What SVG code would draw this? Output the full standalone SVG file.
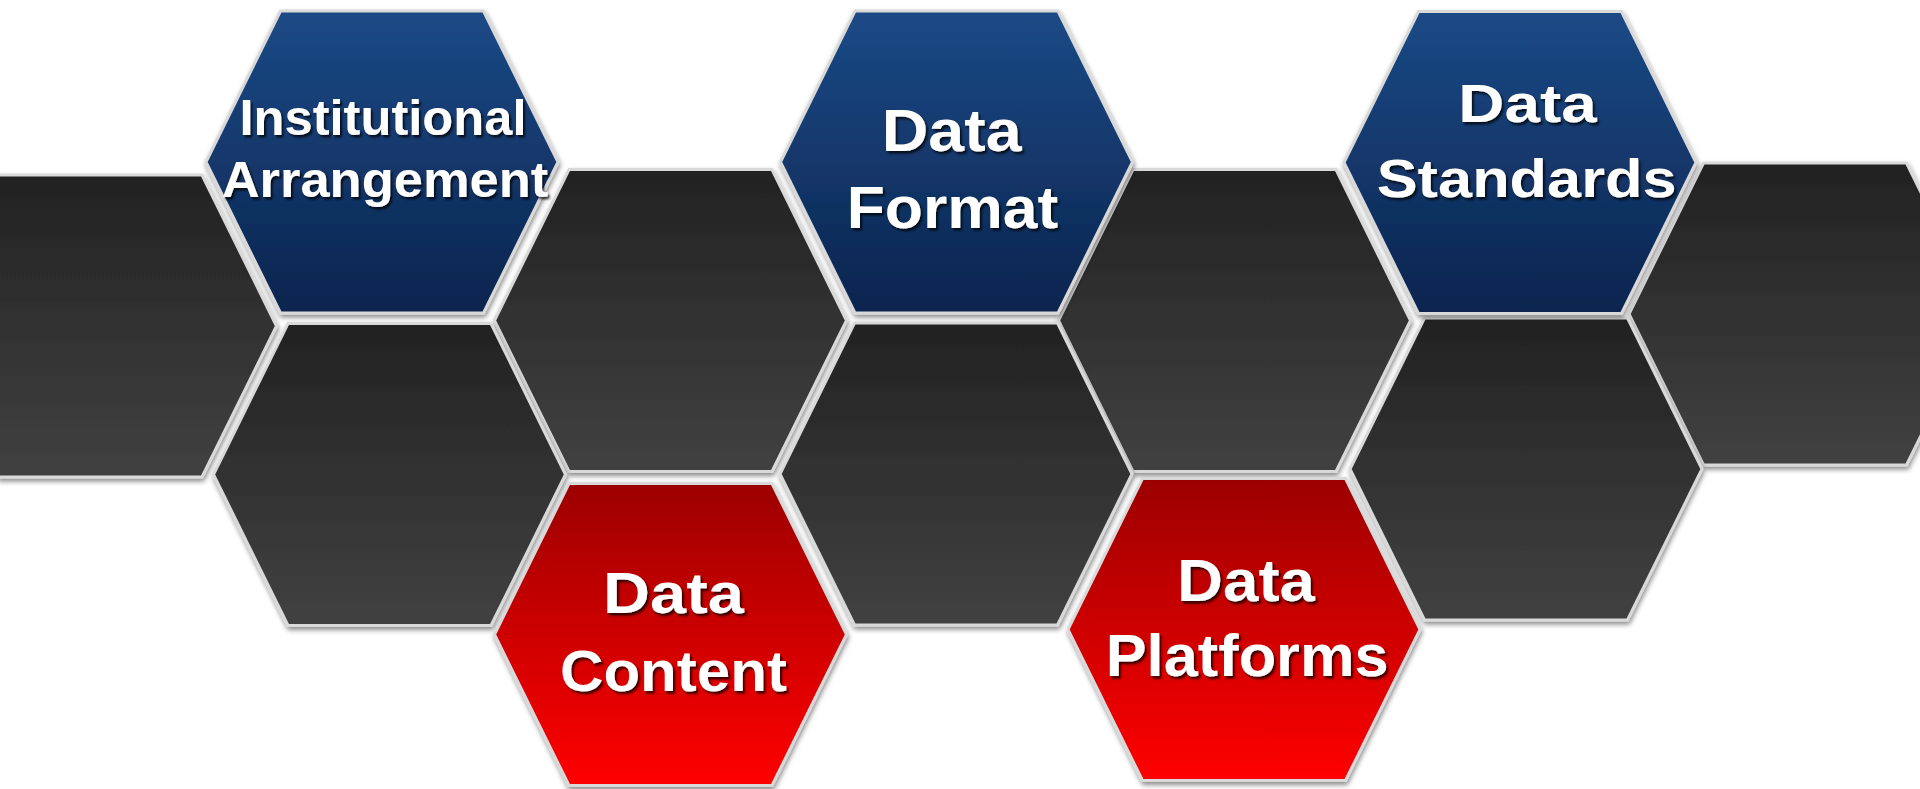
<svg xmlns="http://www.w3.org/2000/svg" width="1920" height="789" viewBox="0 0 1920 789">
<defs>
  <linearGradient id="gGray" x1="0" y1="0" x2="0" y2="1">
    <stop offset="0" stop-color="#222222"/>
    <stop offset="1" stop-color="#414141"/>
  </linearGradient>
  <linearGradient id="gBlue" x1="0" y1="0" x2="0" y2="1">
    <stop offset="0" stop-color="#1b4a86"/>
    <stop offset="1" stop-color="#0b244e"/>
  </linearGradient>
  <linearGradient id="gRed" x1="0" y1="0" x2="0" y2="1">
    <stop offset="0" stop-color="#9c0000"/>
    <stop offset="1" stop-color="#ff0000"/>
  </linearGradient>
  <filter id="hexShadow" x="-10%" y="-10%" width="120%" height="125%">
    <feDropShadow dx="1" dy="3" stdDeviation="2.5" flood-color="#000000" flood-opacity="0.45"/>
  </filter>
  <filter id="txtShadow" x="-10%" y="-20%" width="120%" height="150%">
    <feDropShadow dx="2" dy="2.5" stdDeviation="1.2" flood-color="#000000" flood-opacity="0.75"/>
  </filter>
  <path id="hex" d="M-176,0 L-101.5,-151 L101.5,-151 L176,0 L101.5,151 L-101.5,151 Z"/>
</defs>
<style>
  .hx { stroke: #d9d9d9; stroke-width: 3; stroke-linejoin: miter; filter: url(#hexShadow); }
  .gray { fill: url(#gGray); }
  .blue { fill: url(#gBlue); }
  .red { fill: url(#gRed); }
  .lbl { font-family: "Liberation Sans", Arial, sans-serif; font-weight: bold; fill: #ffffff; filter: url(#txtShadow); }
</style>
<rect x="0" y="0" width="1920" height="789" fill="#ffffff"/>

<g id="hex-gray-a"><use href="#hex" class="hx gray" transform="translate(100.5,326)"/></g>
<g id="hex-gray-c"><use href="#hex" class="hx gray" transform="translate(670.5,320.5)"/></g>
<g id="hex-gray-e"><use href="#hex" class="hx gray" transform="translate(1234.5,320.5)"/></g>
<g id="hex-gray-g"><use href="#hex" class="hx gray" transform="translate(1805,314)"/></g>
<g id="hex-gray-b"><use href="#hex" class="hx gray" transform="translate(389.5,474.5)"/></g>
<g id="hex-gray-d"><use href="#hex" class="hx gray" transform="translate(956,474)"/></g>
<g id="hex-gray-f"><use href="#hex" class="hx gray" transform="translate(1526,469)"/></g>

<g id="node-institutional">
  <use href="#hex" class="hx blue" transform="translate(382,162)"/>
  <text class="lbl" font-size="50" x="239.5" y="135" textLength="287" lengthAdjust="spacingAndGlyphs">Institutional</text>
  <text class="lbl" font-size="50" x="221.7" y="196.7" textLength="326.6" lengthAdjust="spacingAndGlyphs">Arrangement</text>
</g>
<g id="node-format">
  <use href="#hex" class="hx blue" transform="translate(956.5,162)"/>
  <text class="lbl" font-size="59" x="881.7" y="150.7" textLength="140" lengthAdjust="spacingAndGlyphs">Data</text>
  <text class="lbl" font-size="59" x="846.7" y="228.3" textLength="211.6" lengthAdjust="spacingAndGlyphs">Format</text>
</g>
<g id="node-standards">
  <use href="#hex" class="hx blue" transform="translate(1520,162.5)"/>
  <text class="lbl" font-size="54" x="1458.3" y="121.7" textLength="138.4" lengthAdjust="spacingAndGlyphs">Data</text>
  <text class="lbl" font-size="54" x="1376.7" y="196.7" textLength="300" lengthAdjust="spacingAndGlyphs">Standards</text>
</g>
<g id="node-content">
  <use href="#hex" class="hx red" transform="translate(670.5,634.5)"/>
  <text class="lbl" font-size="57" x="603" y="613" textLength="141" lengthAdjust="spacingAndGlyphs">Data</text>
  <text class="lbl" font-size="57" x="560" y="690.7" textLength="227" lengthAdjust="spacingAndGlyphs">Content</text>
</g>
<g id="node-platforms">
  <use href="#hex" class="hx red" transform="translate(1244,629.5)"/>
  <text class="lbl" font-size="60" x="1177" y="600.7" textLength="138" lengthAdjust="spacingAndGlyphs">Data</text>
  <text class="lbl" font-size="60" x="1105.7" y="676.3" textLength="283" lengthAdjust="spacingAndGlyphs">Platforms</text>
</g>
<g id="connectors"></g>
</svg>
